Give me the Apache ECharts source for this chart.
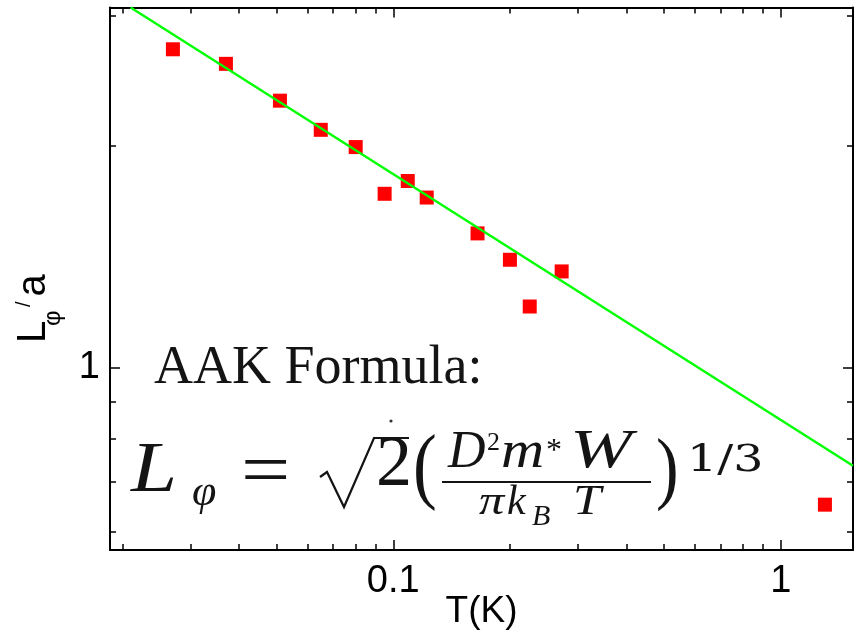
<!DOCTYPE html>
<html>
<head>
<meta charset="utf-8">
<script src="https://cdn.jsdelivr.net/npm/echarts@6/dist/echarts.min.js"></script>
<style>
  html, body { margin: 0; padding: 0; background: #fff; }
  #chart { width: 855px; height: 638px; }
</style>
</head>
<body>
<div id="chart"></div>
<script>
// Dephasing length L_phi/a versus temperature, log-log axes
const temperatureK = [0.027, 0.037, 0.051, 0.065, 0.080, 0.095, 0.109, 0.122, 0.165, 0.200, 0.225, 0.272, 1.30];
const lPhiOverA    = [2.70, 2.58, 2.30, 2.10, 1.99, 1.72, 1.79, 1.70, 1.52, 1.40, 1.21, 1.35, 0.652];

// AAK prediction, L ~ T^(-1/3): end points of the straight line
const fitT = [0.0210, 1.536];
const fitL = [3.076, 0.736];

// Axis ranges and tick positions
const xRange = [0.01858, 1.536];
const yRange = [0.566, 3.076];
const xMajorTicks = [0.1, 1];
const xMinorTicks = [0.02, 0.03, 0.04, 0.05, 0.06, 0.07, 0.08, 0.09, 0.2, 0.3, 0.4, 0.5, 0.6, 0.7, 0.8, 0.9];
const yMajorTicks = [1];
const yMinorTicks = [0.6, 0.7, 0.8, 0.9, 2, 3];

const SANS = '"Liberation Sans", Arial, sans-serif';
const SERIF = '"Liberation Serif", "Times New Roman", serif';
const WIDE_SERIF = '"DejaVu Serif", serif';

function logAxis(range, position, ticks, tickLen, showLine, label) {
  const ax = {
    type: 'log',
    logBase: 10,
    position: position,
    min: range[0],
    max: range[1],
    axisLine: { show: showLine, onZero: false, lineStyle: { color: '#000', width: 2 } },
    axisTick: { show: true, inside: true, length: tickLen, customValues: ticks,
                lineStyle: { color: '#000', width: 1.5 } },
    axisLabel: { show: false },
    splitLine: { show: false },
    minorTick: { show: false },
    minorSplitLine: { show: false }
  };
  if (label) {
    ax.axisLabel = Object.assign({ show: true, customValues: ticks, color: '#000',
      fontSize: 38, fontFamily: SANS }, label);
  }
  return ax;
}

const xAxes = [
  Object.assign(logAxis(xRange, 'bottom', xMajorTicks, 10, true, { margin: 13 }), {
    name: 'T(K)', nameLocation: 'middle', nameGap: 43, nameMoveOverlap: false,
    nameTextStyle: { color: '#000', fontSize: 37, fontFamily: SANS }
  }),
  logAxis(xRange, 'bottom', xMinorTicks, 6, false),
  logAxis(xRange, 'top', xMajorTicks, 10, true),
  logAxis(xRange, 'top', xMinorTicks, 6, false)
];
const yAxes = [
  logAxis(yRange, 'left', yMajorTicks, 10, true, { margin: 10 }),
  logAxis(yRange, 'left', yMinorTicks, 6, false),
  logAxis(yRange, 'right', yMajorTicks, 10, true),
  logAxis(yRange, 'right', yMinorTicks, 6, false)
];

// piece of math text placed by its baseline (optionally stretched sideways)
function mt(text, x, base, size, italic, sx, family) {
  return {
    type: 'text', x: x, y: base - 0.3375 * size, scaleX: sx || 1, silent: true,
    style: { text: text, fontSize: size, fontFamily: family || SERIF,
             fontStyle: italic ? 'italic' : 'normal', fill: '#141414',
             align: 'left', verticalAlign: 'middle' }
  };
}
function st(text, x, base, size) {
  return {
    type: 'text', x: x, y: base - 0.3465 * size, silent: true,
    style: { text: text, fontSize: size, fontFamily: SANS, fill: '#000',
             align: 'left', verticalAlign: 'middle' }
  };
}

const yTitle = {
  type: 'group', x: 48, y: 343, rotation: Math.PI / 2, silent: true,
  children: [
    st('L', 0, 0, 40),
    st('φ', 17, 14, 24),
    st('/', 36, -17, 20),
    st('a', 46.5, 0, 40)
  ]
};

const formula = {
  type: 'group', silent: true,
  children: [
    mt('AAK Formula:', 154, 386.7, 54, false),
    mt('L', 131, 496, 72, true, 1.15),
    mt('φ', 192, 508, 44, true),
    mt('=', 241, 501, 76, false, 1.15),
    { type: 'polyline', silent: true,
      shape: { points: [[320, 477], [327, 472], [344, 507], [374, 438], [409, 438]] },
      style: { stroke: '#141414', lineWidth: 2.2, fill: null, lineJoin: 'miter' } },
    { type: 'circle', silent: true, shape: { cx: 391, cy: 421, r: 1.6 }, style: { fill: '#333' } },
    mt('2', 376, 490, 72, false),
    mt('(', 413, 499, 84, false, 0.85),
    { type: 'line', silent: true, shape: { x1: 442, y1: 482, x2: 651, y2: 482 },
      style: { stroke: '#141414', lineWidth: 2 } },
    mt('D', 448, 471, 52, true),
    mt('2', 487, 452, 26, false),
    mt('m', 501, 471, 52, true, 1.15),
    mt('*', 546, 462, 32, false),
    mt('W', 570, 471, 55, true, 1.35),
    mt('π', 479, 517, 42, true, 1.2),
    mt('k', 507, 517, 42, true),
    mt('B', 532, 527, 30, true),
    mt('T', 573, 517, 42, true, 1.2),
    mt(')', 656, 500, 80, false, 0.85),
    mt('1/3', 687, 474, 38, false, 1.25, WIDE_SERIF)
  ]
};

const chart = echarts.init(document.getElementById('chart'), null, { renderer: 'canvas' });
chart.setOption({
  animation: false,
  backgroundColor: '#fff',
  grid: { left: 110, right: 2, top: 7.5, bottom: 88, containLabel: false, outerBoundsMode: 'none' },
  xAxis: xAxes,
  yAxis: yAxes,
  series: [
    {
      type: 'scatter',
      xAxisIndex: 0, yAxisIndex: 0,
      symbol: 'rect', symbolSize: 14,
      itemStyle: { color: '#ff0000', opacity: 1 },
      z: 2,
      data: temperatureK.map((t, i) => [t, lPhiOverA[i]])
    },
    {
      type: 'line',
      xAxisIndex: 0, yAxisIndex: 0,
      showSymbol: false, symbol: 'none',
      lineStyle: { color: '#00ff00', width: 2.4 },
      z: 3,
      data: fitT.map((t, i) => [t, fitL[i]])
    }
  ],
  graphic: [yTitle, formula]
});
</script>
</body>
</html>
